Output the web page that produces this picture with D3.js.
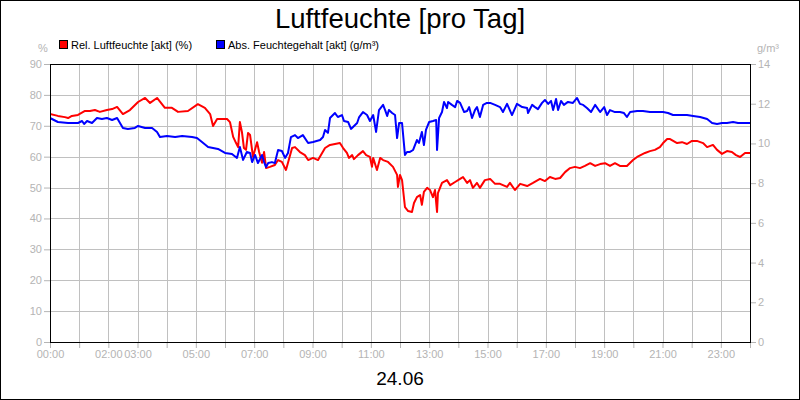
<!DOCTYPE html>
<html lang="de">
<head>
  <meta charset="UTF-8">
  <title>Luftfeuchte [pro Tag]</title>
  <style>
    body { margin: 0; background: #fff; font-family: "Liberation Sans", Arial, sans-serif; }
    svg { display: block; }
    .tick text { fill: #b4b4b4; font-size: 11px; font-family: "Liberation Sans", Arial, sans-serif; }
    .tick line { stroke: #b4b4b4; }
    .domain { display: none; }
  </style>
</head>
<body>

<svg width="800" height="400"></svg>

<script src="https://d3js.org/d3.v7.min.js"></script>
<script>

// chart data (time in hours of 24.06)
let relTime = [0.00,0.27,0.51,0.62,0.75,0.96,1.20,1.37,1.54,1.71,1.95,2.13,2.30,2.50,2.74,3.02,3.26,3.43,3.67,3.94,
  4.18,4.39,4.73,5.07,5.31,5.49,5.59,5.73,6.07,6.17,6.28,6.38,6.45,6.51,6.58,6.65,6.72,6.79,6.86,6.96,
  7.10,7.17,7.27,7.34,7.41,7.54,7.71,7.82,7.95,8.09,8.16,8.30,8.40,8.57,8.74,8.85,9.02,9.19,9.43,9.60,
  9.77,9.94,10.05,10.18,10.25,10.36,10.42,10.56,10.73,10.84,10.97,11.04,11.08,11.21,11.32,11.42,11.59,11.76,11.90,11.93,
  12.00,12.07,12.17,12.28,12.41,12.48,12.58,12.69,12.75,12.82,12.93,13.03,13.13,13.20,13.27,13.30,13.44,13.61,13.72,13.89,
  14.06,14.16,14.30,14.40,14.50,14.64,14.74,14.91,15.09,15.26,15.43,15.67,15.77,15.94,16.12,16.36,16.56,16.80,16.97,17.14,
  17.32,17.49,17.66,17.83,18.00,18.17,18.34,18.52,18.69,18.86,19.03,19.20,19.37,19.54,19.78,19.99,20.13,20.40,20.57,20.74,
  20.91,21.02,21.16,21.26,21.50,21.67,21.84,22.01,22.18,22.39,22.53,22.73,22.87,23.04,23.21,23.38,23.52,23.66,23.83,24.00];
let relValue = [73.8,73.2,72.8,72.5,73.2,73.5,74.8,74.8,75.1,74.5,75.1,75.4,76.1,73.8,75.1,77.7,79.0,77.4,79.0,75.8,
  75.8,74.5,74.8,77.0,75.8,73.8,69.9,72.2,72.2,71.2,66.4,64.4,63.1,71.2,68.0,62.8,62.2,67.7,67.0,59.9,
  64.7,61.5,58.0,61.5,56.3,56.7,57.3,58.9,58.3,55.7,58.0,62.8,63.1,61.5,60.5,58.9,59.6,58.9,62.8,63.8,
  64.1,64.4,62.8,61.2,59.6,60.5,59.2,60.5,61.8,60.5,59.9,56.7,59.6,55.7,59.6,58.9,58.3,56.7,54.1,50.2,
  54.1,52.4,43.7,42.4,42.1,45.0,46.9,47.6,44.4,48.6,49.9,49.2,46.9,49.2,42.1,48.2,51.5,52.4,50.8,51.8,
  52.8,53.4,51.5,52.4,49.9,51.5,49.9,52.4,52.8,51.2,51.2,50.2,51.5,49.2,51.2,50.5,51.5,52.8,52.1,53.4,
  52.8,53.1,55.0,56.3,56.7,56.3,57.0,57.9,57.0,57.6,57.9,57.0,57.9,57.0,57.0,58.9,59.9,61.2,61.8,62.2,
  63.1,64.4,65.7,65.7,64.4,64.7,64.1,65.1,65.1,64.4,63.1,63.8,62.2,60.9,61.8,61.5,60.5,59.9,61.2,61.2];

let absTime = [0.00,0.27,0.62,0.96,1.10,1.17,1.27,1.44,1.61,1.78,1.95,2.13,2.30,2.50,2.67,2.91,3.02,3.26,3.50,3.67,
  3.77,4.01,4.29,4.53,4.87,5.04,5.21,5.42,5.59,5.76,6.00,6.24,6.41,6.51,6.62,6.75,6.86,6.93,7.03,7.13,
  7.27,7.34,7.41,7.48,7.61,7.71,7.82,7.95,8.06,8.16,8.26,8.40,8.50,8.67,8.85,9.02,9.26,9.36,9.43,9.53,
  9.60,9.77,9.87,10.01,10.08,10.22,10.32,10.39,10.53,10.60,10.73,10.87,10.97,11.08,11.18,11.28,11.42,11.49,11.56,11.62,
  11.73,11.83,11.90,11.97,12.07,12.17,12.24,12.34,12.45,12.58,12.65,12.75,12.82,12.89,13.00,13.13,13.24,13.27,13.34,13.44,
  13.51,13.61,13.65,13.78,13.89,13.96,14.06,14.20,14.30,14.37,14.47,14.57,14.64,14.74,14.85,14.98,15.09,15.26,15.43,15.53,
  15.67,15.84,16.01,16.19,16.36,16.39,16.53,16.63,16.73,16.87,16.97,17.08,17.18,17.25,17.35,17.42,17.52,17.62,17.76,17.93,
  18.07,18.17,18.28,18.41,18.55,18.69,18.86,19.00,19.10,19.20,19.37,19.54,19.68,19.78,19.89,20.13,20.33,20.57,20.81,21.02,
  21.19,21.36,21.60,21.84,22.05,22.29,22.53,22.70,22.87,23.04,23.21,23.42,23.59,23.76,23.93,24.00];
let absValue = [11.28,11.08,11.03,11.03,11.13,10.98,11.13,11.03,11.28,11.23,11.28,11.18,11.28,10.78,10.73,10.78,10.88,10.78,10.78,10.58,
  10.32,10.37,10.32,10.37,10.32,10.27,10.07,9.82,9.77,9.72,9.52,9.47,9.27,9.82,9.17,9.57,9.52,9.06,9.42,9.01,
  9.42,9.06,8.81,9.01,9.06,9.01,9.67,9.62,9.27,9.52,10.32,10.42,10.27,10.42,10.02,10.07,10.17,10.32,10.68,10.53,
  11.28,11.53,11.33,11.43,11.13,11.08,10.73,10.83,11.03,11.33,11.58,11.43,11.13,11.43,10.58,11.68,11.94,11.68,11.38,11.68,
  11.53,11.43,10.27,11.03,11.03,9.42,9.57,9.57,9.67,10.17,10.02,10.58,9.92,10.68,11.08,11.13,11.18,9.67,11.28,11.58,
  12.09,11.78,12.09,11.94,11.83,12.14,12.04,11.58,11.63,11.83,11.28,11.68,11.83,11.33,11.94,12.04,12.04,11.94,11.83,11.58,
  11.99,11.43,11.99,11.83,11.78,11.53,11.94,11.83,11.73,12.04,12.19,11.99,12.14,11.68,12.24,11.68,12.14,11.94,12.09,12.04,
  12.29,11.99,11.94,11.78,11.58,11.94,11.58,11.83,11.43,11.68,11.58,11.58,11.53,11.33,11.58,11.63,11.63,11.58,11.58,11.58,
  11.53,11.43,11.43,11.43,11.38,11.33,11.23,11.03,10.98,11.03,11.03,11.08,11.03,11.03,11.03,11.03];

let leftTicks = [0,10,20,30,40,50,60,70,80,90];
let rightTicks = [0,2,4,6,8,10,12,14];
let hourTicks = d3.range(0, 25);
let labelHours = [0,2,3,5,7,9,11,13,15,17,19,21,23];

let width = 800, height = 400;
let plotLeft = 50, plotRight = 750, plotTop = 64, plotBottom = 342;

let svg = d3.select("svg");

// outer frame
svg.append("rect")
    .attr("x", 0.5).attr("y", 0.5)
    .attr("width", width - 1).attr("height", height - 1)
    .attr("fill", "white").attr("stroke", "black");

let x = d3.scaleLinear().domain([0, 24]).range([plotLeft, plotRight]);
let yRel = d3.scaleLinear().domain([0, 90]).range([plotBottom, plotTop]);
let yAbs = d3.scaleLinear().domain([0, 14]).range([plotBottom, plotTop]);

// grid
let grid = svg.append("g").attr("stroke", "#c0c0c0").attr("stroke-width", 1);
grid.selectAll(".vg").data(hourTicks).enter().append("line")
    .attr("x1", d => Math.round(x(d)) + 0.5).attr("x2", d => Math.round(x(d)) + 0.5)
    .attr("y1", plotTop).attr("y2", plotBottom);
grid.selectAll(".hg").data(leftTicks).enter().append("line")
    .attr("x1", plotLeft).attr("x2", plotRight)
    .attr("y1", d => Math.round(yRel(d)) + 0.5).attr("y2", d => Math.round(yRel(d)) + 0.5);

// axes
svg.append("g")
    .attr("transform", "translate(" + plotLeft + ",0)")
    .call(d3.axisLeft(yRel).tickValues(leftTicks).tickSize(6).tickPadding(2));
svg.append("g")
    .attr("transform", "translate(" + plotRight + ",0)")
    .call(d3.axisRight(yAbs).tickValues(rightTicks).tickSize(6).tickPadding(2));
svg.append("g")
    .attr("transform", "translate(0," + plotBottom + ")")
    .call(d3.axisBottom(x).tickValues(hourTicks).tickSize(6).tickPadding(2)
      .tickFormat(d => labelHours.includes(d) ? d3.format("02")(d) + ":00" : ""));

// lines
svg.append("clipPath").attr("id", "plot")
  .append("rect").attr("x", plotLeft).attr("y", plotTop)
  .attr("width", plotRight - plotLeft).attr("height", plotBottom - plotTop);

let relLine = d3.line().x((d, i) => x(relTime[i])).y(d => yRel(d));
let absLine = d3.line().x((d, i) => x(absTime[i])).y(d => yAbs(d));

svg.append("path").datum(relValue)
    .attr("d", relLine).attr("fill", "none")
    .attr("stroke", "#ff0000").attr("stroke-width", 2).attr("stroke-linejoin", "round")
    .attr("clip-path", "url(#plot)");
svg.append("path").datum(absValue)
    .attr("d", absLine).attr("fill", "none")
    .attr("stroke", "#0000ff").attr("stroke-width", 2).attr("stroke-linejoin", "round")
    .attr("clip-path", "url(#plot)");

// plot border
svg.append("rect")
    .attr("x", plotLeft + 0.5).attr("y", plotTop + 0.5)
    .attr("width", plotRight - plotLeft).attr("height", plotBottom - plotTop)
    .attr("fill", "none").attr("stroke", "black");

// texts
svg.append("text")
    .attr("x", 400).attr("y", 28).attr("text-anchor", "middle")
    .attr("font-size", 27.5).attr("fill", "black")
    .text("Luftfeuchte [pro Tag]");
svg.append("text")
    .attr("x", 400).attr("y", 385).attr("text-anchor", "middle")
    .attr("font-size", 19).attr("fill", "black")
    .text("24.06");
svg.append("text")
    .attr("x", 43).attr("y", 52).attr("text-anchor", "middle")
    .attr("font-size", 11).attr("fill", "#b4b4b4")
    .text("%");
svg.append("text")
    .attr("x", 768).attr("y", 52).attr("text-anchor", "middle")
    .attr("font-size", 11).attr("fill", "#b4b4b4")
    .text("g/m³");

// legend
let legend = [
  {label: "Rel. Luftfeuchte [akt] (%)", color: "#ff0000", x: 59},
  {label: "Abs. Feuchtegehalt [akt] (g/m³)", color: "#0000ff", x: 216}
];
let lg = svg.append("g").selectAll("g").data(legend).enter().append("g");
lg.append("rect")
    .attr("x", d => d.x + 0.5).attr("y", 40.5).attr("width", 8).attr("height", 8)
    .attr("fill", d => d.color).attr("stroke", "black");
lg.append("text")
    .attr("x", d => d.x + 12).attr("y", 49)
    .attr("font-size", 11).attr("fill", "black")
    .text(d => d.label);

</script>

</body>
</html>
